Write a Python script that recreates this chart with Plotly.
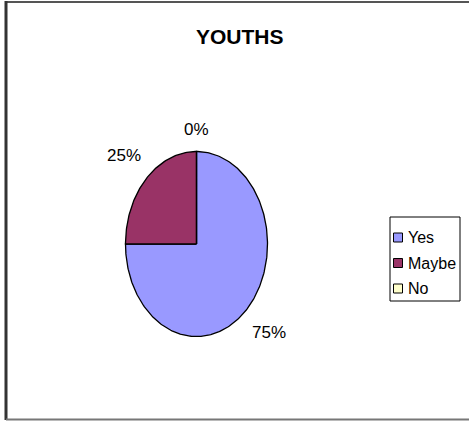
import numpy as np
import plotly.graph_objects as go

# Survey answers for the youth group
categories = ["Yes", "Maybe", "No"]
shares = [75, 25, 0]
colors = ["#9999FF", "#993366", "#FFFFCC"]
title_text = "YOUTHS"

W, H = 469, 421
# pie geometry in pixel space (slightly oval pie)
cx, cy, rx, ry = 196.5, 244.0, 71.0, 92.5
FONT = "Liberation Sans, Arial, sans-serif"

fig = go.Figure()

total = float(sum(shares))
start = 0.0
annotations = []
for name, val, col in zip(categories, shares, colors):
    span = 360.0 * val / total
    t = np.radians(np.linspace(start, start + span, max(int(span) + 2, 2)))
    xs = np.concatenate([[cx], cx + rx * np.sin(t), [cx]])
    ys = np.concatenate([[cy], cy - ry * np.cos(t), [cy]])
    fig.add_trace(go.Scatter(
        x=xs, y=ys, mode="lines", fill="toself", fillcolor=col,
        line=dict(color="black", width=1.3), showlegend=False,
        hoverinfo="skip"))
    # percentage label just outside the slice middle
    mid = np.radians(start + span / 2.0)
    s, c = np.sin(mid), np.cos(mid)
    txt = f"{val}%"
    hw, hh, gap = 5.7 * len(txt), 7.0, 15.0
    off = gap + hw * abs(s) + hh * abs(c)
    annotations.append(dict(
        x=cx + s * (rx + off), y=cy - c * (ry + off), xref="x", yref="y",
        text=txt, showarrow=False, xanchor="center", yanchor="middle",
        font=dict(family=FONT, size=17, color="black")))
    start += span

# legend: framed box with square swatches and names
shapes = []
lg_left, lg_top, lg_right, lg_bottom = 390, 217, 460, 301
shapes.append(dict(type="rect", xref="x", yref="y", x0=lg_left, x1=lg_right,
                   y0=lg_top, y1=lg_bottom,
                   line=dict(color="black", width=1), fillcolor="white",
                   layer="below"))
row0, row_step = 237.5, 25.5
for i, (name, col) in enumerate(zip(categories, colors)):
    yc = row0 + i * row_step
    shapes.append(dict(type="rect", xref="x", yref="y", x0=393.5, x1=402.5,
                       y0=yc - 4.5, y1=yc + 4.5, fillcolor=col,
                       line=dict(color="black", width=1)))
    annotations.append(dict(x=406, y=yc, xref="x", yref="y", text=name,
                            showarrow=False, xanchor="left", yanchor="middle",
                            font=dict(family=FONT, size=16, color="black")))

# chart frame
shapes += [
    dict(type="line", xref="x", yref="y", x0=6, x1=W + 5, y0=2, y1=2,
         line=dict(color="#555555", width=2)),
    dict(type="line", xref="x", yref="y", x0=6, x1=6, y0=1, y1=H - 1,
         line=dict(color="#333333", width=3)),
    dict(type="line", xref="x", yref="y", x0=6, x1=W + 5, y0=H - 1.5,
         y1=H - 1.5, line=dict(color="#777777", width=2)),
]

annotations.append(dict(
    x=240, y=36, xref="x", yref="y", text=f"<b>{title_text}</b>",
    showarrow=False, xanchor="center", yanchor="middle",
    font=dict(family=FONT, size=21, color="black")))

fig.update_layout(
    width=W, height=H,
    margin=dict(l=0, r=0, t=0, b=0),
    paper_bgcolor="white", plot_bgcolor="white",
    xaxis=dict(range=[0, W], visible=False, fixedrange=True),
    yaxis=dict(range=[H, 0], visible=False, fixedrange=True),
    showlegend=False,
    annotations=annotations,
    shapes=shapes,
)

fig.write_html("out.html")
